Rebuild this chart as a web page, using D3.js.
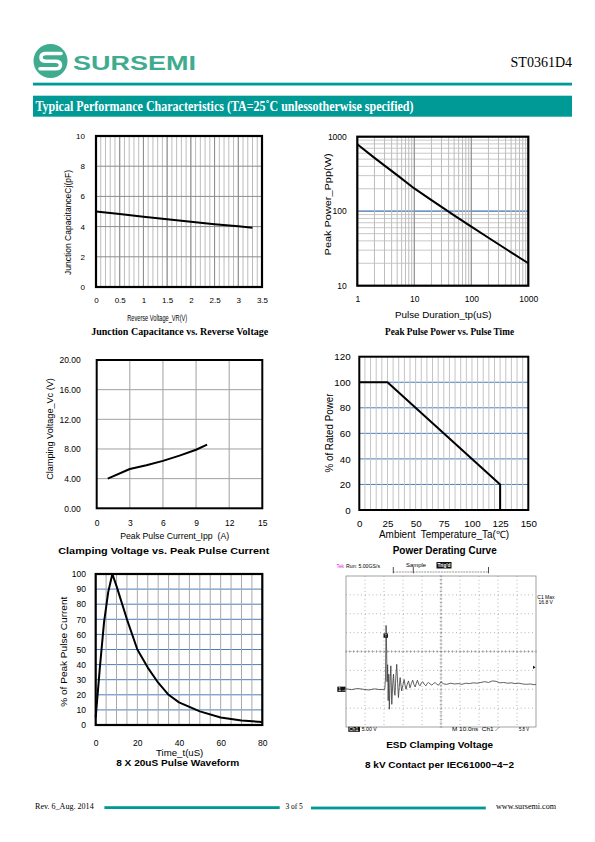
<!DOCTYPE html>
<html><head><meta charset="utf-8">
<script src="https://cdn.jsdelivr.net/npm/d3@7"></script>
<style>body{margin:0;background:#fff}svg{display:block}text{white-space:pre}</style>
</head><body><svg id="c" width="595" height="842"></svg>
<script>
// ---------- DATA ----------
// Chart 1: Junction capacitance vs reverse voltage
const cjVr = [0, 0.5, 1, 1.5, 2, 2.5, 3, 3.3];
const cjPf = [5.0, 4.83, 4.66, 4.49, 4.32, 4.16, 4.02, 3.92];
const cjXTicks = [0, 0.5, 1, 1.5, 2, 2.5, 3, 3.5];
const cjYTicks = [0, 2, 4, 6, 8, 10];
// Chart 2: Peak pulse power vs pulse time
const ppTp = [1, 2, 5, 10, 20, 50, 100, 200, 500, 1000];
const ppW = [790, 520, 305, 202, 141, 88, 62, 44, 28, 20];
const ppXTicks = [1, 10, 100, 1000];
const ppYTicks = [10, 100, 1000];
// Chart 3: Clamping voltage vs peak pulse current
const vcIpp = [1, 3, 4.5, 6, 7.5, 9, 10];
const vcV = [4.0, 5.3, 5.8, 6.4, 7.1, 7.9, 8.6];
const vcXTicks = [0, 3, 6, 9, 12, 15];
const vcYTicks = [0, 4, 8, 12, 16, 20];
// Chart 4: Power derating curve
const drT = [0, 25, 125, 125];
const drP = [100, 100, 20, 0];
const drXTicks = [0, 25, 50, 75, 100, 125, 150];
const drYTicks = [0, 20, 40, 60, 80, 100, 120];
// Chart 5: 8x20us pulse waveform
const pwT = [0, 2, 4, 6, 8, 10, 15, 20, 25, 30, 35, 40, 50, 60, 70, 80];
const pwI = [5, 38, 68, 88, 100, 92, 70, 50, 38, 28, 20, 15, 9, 5, 3, 2];
const pwXTicks = [0, 20, 40, 60, 80];
const pwYTicks = [0, 10, 20, 30, 40, 50, 60, 70, 80, 90, 100];
// Chart 6: ESD clamping scope trace (time ns from left edge, volts above ground)
const escT = [0,3,6,9,12,15,18,20.4,20.8,21.1,21.4,21.6,21.9,22.2,22.5,22.8,23.2,23.6,24.1,24.6,25.0,25.5,25.8,26.2,26.7,27.2,27.6,28.0,28.5,29.0,29.3,30.0,30.6,31.1,31.6,32.2,32.9,33.7,34.4,35.1,35.8,36.4,37.0,37.6,38.3,39.0,39.7,40.4,41.2,42.0,42.7,43.4,44.3,45.2,46.0,46.9,47.8,48.7,49.4,50.1,51.5,53,55,57,59,61,63,65,67,69,71,73,75,77,79,81,83,85,87,89,91,93,95,97,99,100];
const escV = [0.1,-0.1,0.2,0.0,-0.2,0.1,-0.1,0.0,3.0,16.9,10.0,2.0,6.5,-3.0,4.0,-5.3,2.0,6.2,-4.0,1.5,4.0,-1.0,-1.6,3.0,6.6,1.5,-2.2,0.5,3.1,0.8,-0.4,1.2,2.6,1.0,0.0,1.3,2.2,0.4,1.5,2.4,1.2,0.6,1.6,2.4,1.3,0.9,1.7,2.0,1.3,0.9,1.5,1.8,1.4,1.1,1.5,1.8,1.3,1.1,1.6,1.9,1.4,1.3,1.6,1.4,1.5,1.3,1.6,1.5,1.7,1.6,1.8,2.0,1.8,2.2,2.1,1.7,1.8,1.6,1.7,1.5,1.6,1.4,1.3,1.4,1.2,1.3];
const escXTicks = [0,10,20,30,40,50,60,70,80,90,100];
const escYTicks = [-10,-5,0,5,10,15,20,25,30];

// ---------- HELPERS ----------
const svg = d3.select("#c");
const SANS = "'Liberation Sans', Arial, sans-serif";
const SERIF = "'Liberation Serif', 'Times New Roman', serif";
const TEAL = "#009a96";
const BLUE = "#4a7ebb";

function txt(g, x, y, s, o = {}) {
  const t = g.append("text").attr("x", x).attr("y", y).text(s)
    .attr("font-family", o.family || SANS).attr("font-size", o.size || 9)
    .attr("font-weight", o.weight || "normal").attr("fill", o.fill || "#000")
    .attr("text-anchor", o.anchor || "middle");
  if (o.len) t.attr("textLength", o.len).attr("lengthAdjust", "spacingAndGlyphs");
  if (o.rot) t.attr("transform", `rotate(-90,${x},${y})`);
  return t;
}
function vgrid(g, x, vals, y0, y1, color, w = 1) {
  return g.append("g").selectAll("line").data(vals).join("line")
    .attr("x1", d => x(d)).attr("x2", d => x(d)).attr("y1", y0).attr("y2", y1)
    .attr("stroke", color).attr("stroke-width", w);
}
function hgrid(g, y, vals, x0, x1, color, w = 1) {
  return g.append("g").selectAll("line").data(vals).join("line")
    .attr("y1", d => y(d)).attr("y2", d => y(d)).attr("x1", x0).attr("x2", x1)
    .attr("stroke", color).attr("stroke-width", w);
}
function axes(g, x, y, o) {
  const ax = g.append("g").attr("transform", `translate(0,${o.bottom})`)
    .call(d3.axisBottom(x).tickValues(o.xt).tickFormat(o.xf || (d => d)).tickSize(0).tickPadding(o.xp));
  const ay = g.append("g").attr("transform", `translate(${o.left},0)`)
    .call(d3.axisLeft(y).tickValues(o.yt).tickFormat(o.yf || (d => d)).tickSize(0).tickPadding(o.yp));
  [ax, ay].forEach(a => { a.select(".domain").remove(); a.attr("font-family", SANS).attr("font-size", o.fs); a.selectAll("text").attr("fill", "#000"); });
}
function border(g, x0, y0, x1, y1, w = 2) {
  g.append("rect").attr("x", x0).attr("y", y0).attr("width", x1 - x0).attr("height", y1 - y0)
    .attr("fill", "none").attr("stroke", "#000").attr("stroke-width", w);
}
function curve(g, xs, ys, x, y, w = 2) {
  const pts = xs.map((d, i) => [d, ys[i]]);
  g.append("path").datum(pts).attr("fill", "none").attr("stroke", "#000").attr("stroke-width", w)
    .attr("stroke-linejoin", "round")
    .attr("d", d3.line().x(d => x(d[0])).y(d => y(d[1])));
}

// ---------- HEADER ----------
const hdr = svg.append("g");
hdr.append("circle").attr("cx", 50.5).attr("cy", 61).attr("r", 17).attr("fill", "#3fab8f");
hdr.append("path").attr("d", "M61,53.5 L46,53.5 Q41,53.5 41,57.5 Q41,61.2 46,61.2 L55.5,61.2 Q60.5,61.2 60.5,65 Q60.5,68.8 55.5,68.8 L40,68.8")
  .attr("fill", "none").attr("stroke", "#fff").attr("stroke-width", 3.6).attr("stroke-linecap", "round");
txt(hdr, 72.9, 70, "SURSEMI", { size: 21, weight: "bold", anchor: "start", fill: "#3fab8f", len: 123 });
txt(hdr, 572, 66.5, "ST0361D4", { family: SERIF, size: 14, anchor: "end" });
hdr.append("rect").attr("x", 33).attr("y", 82.7).attr("width", 539).attr("height", 2.8).attr("fill", TEAL);
hdr.append("rect").attr("x", 33).attr("y", 95.7).attr("width", 539).attr("height", 21).attr("fill", TEAL);
txt(hdr, 35.5, 111, "Typical Performance Characteristics (TA=25˚C unlessotherwise specified)",
  { family: SERIF, size: 14, weight: "bold", anchor: "start", fill: "#fff", len: 378 });

// ---------- CHART 1 ----------
{
  const g = svg.append("g");
  const L = 96, R = 262, T = 136, B = 287;
  const x = d3.scaleLinear([0, 3.5], [L, R]);
  const y = d3.scaleLinear([0, 10], [B, T]);
  vgrid(g, x, x.ticks(35), T, B, "#bdbdbd");
  vgrid(g, x, cjXTicks.slice(1, -1), T, B, "#8c8c8c");
  hgrid(g, y, cjYTicks.slice(1, -1), L, R, "#8c8c8c");
  curve(g, cjVr, cjPf, x, y);
  border(g, L, T, R, B, 2.2);
  axes(g, x, y, { bottom: B, left: L, xt: cjXTicks, yt: cjYTicks, xp: 10.6, yp: 11, fs: 8 });
  txt(g, 157.2, 321, "Reverse Voltage_VR(V)", { size: 9, len: 60 });
  txt(g, 179.7, 334.5, "Junction Capacitance vs. Reverse Voltage", { family: SERIF, size: 10, weight: "bold", len: 177 });
  txt(g, 71.4, 222.5, "Junction CapacitanceCj(pF)", { size: 9, len: 105, rot: true });
}

// ---------- CHART 2 ----------
{
  const g = svg.append("g");
  const L = 357.3, R = 528.3, T = 136.7, B = 285.7;
  const x = d3.scaleLog([1, 1000], [L, R]);
  const y = d3.scaleLog([10, 1000], [B, T]);
  hgrid(g, y, y.ticks(), L, R, "#c8c8c8");
  hgrid(g, y, [100], L, R, BLUE, 1.2);
  vgrid(g, x, x.ticks(), T, B, "#bdbdbd");
  vgrid(g, x, [10, 100], T, B, "#8c8c8c");
  curve(g, ppTp, ppW, x, y);
  border(g, L, T, R, B, 2.2);
  axes(g, x, y, { bottom: B, left: L, xt: ppXTicks, yt: ppYTicks, xp: 10, yp: 10.5, fs: 8.5, xf: d3.format("d"), yf: d3.format("d") });
  txt(g, 443.3, 317.7, "Pulse Duration_tp(uS)", { size: 9.5, len: 96.7 });
  txt(g, 449.5, 335, "Peak Pulse Power vs. Pulse Time", { family: SERIF, size: 10, weight: "bold", len: 129 });
  txt(g, 331.3, 204.4, "Peak Power_Ppp(W)", { size: 9.5, len: 102, rot: true });
}

// ---------- CHART 3 ----------
{
  const g = svg.append("g");
  const L = 96.7, R = 262.3, T = 360, B = 508.3;
  const x = d3.scaleLinear([0, 15], [L, R]);
  const y = d3.scaleLinear([0, 20], [B, T]);
  vgrid(g, x, vcXTicks.slice(1, -1), T, B, "#a0a0a0");
  hgrid(g, y, vcYTicks.slice(1, -1), L, R, "#a0a0a0");
  curve(g, vcIpp, vcV, x, y);
  border(g, L, T, R, B, 2);
  axes(g, x, y, { bottom: B, left: L, xt: vcXTicks, yt: vcYTicks, xp: 11.7, yp: 16, fs: 8.5, yf: d3.format(".2f") });
  txt(g, 174.7, 539.3, "Peak Pulse Current_Ipp  (A)", { size: 9, len: 109 });
  txt(g, 163.8, 554, "Clamping Voltage vs. Peak Pulse Current", { size: 9.5, weight: "bold", len: 211 });
  txt(g, 53.2, 429, "Clamping Voltage_Vc (V)", { size: 9, len: 101.7, rot: true });
}

// ---------- CHART 4 ----------
{
  const g = svg.append("g");
  const L = 359.3, R = 528.3, T = 356.7, B = 510;
  const x = d3.scaleLinear([0, 150], [L, R]);
  const y = d3.scaleLinear([0, 120], [B, T]);
  hgrid(g, y, drYTicks.slice(1, -1), L, R, BLUE, 1);
  vgrid(g, x, x.ticks(30).slice(1, -1), T, B, "#c4c4c4");
  curve(g, drT, drP, x, y);
  border(g, L, T, R, B, 2);
  axes(g, x, y, { bottom: B, left: L, xt: drXTicks, yt: drYTicks, xp: 10, yp: 8.6, fs: 9.8 });
  txt(g, 444, 538.3, "Ambient  Temperature_Ta(℃)", { size: 10, len: 130 });
  txt(g, 444.7, 554, "Power Derating Curve", { size: 10, weight: "bold", len: 104 });
  txt(g, 332.5, 433, "% of Rated Power", { size: 10, len: 79, rot: true });
}

// ---------- CHART 5 ----------
{
  const g = svg.append("g");
  const L = 95.7, R = 262.3, T = 574, B = 725;
  const x = d3.scaleLinear([0, 80], [L, R]);
  const y = d3.scaleLinear([0, 100], [B, T]);
  hgrid(g, y, pwYTicks.slice(1, -1), L, R, BLUE, 1);
  vgrid(g, x, x.ticks(16).slice(1, -1), T, B, "#a8a8a8");
  curve(g, pwT, pwI, x, y);
  border(g, L, T, R, B, 2.2);
  axes(g, x, y, { bottom: B, left: L, xt: pwXTicks, yt: pwYTicks, xp: 14.6, yp: 9.7, fs: 8.5 });
  txt(g, 179.7, 756, "Time_t(uS)", { size: 9, len: 47.3 });
  txt(g, 177.7, 765.7, "8 X 20uS Pulse Waveform", { size: 9.5, weight: "bold", len: 123 });
  txt(g, 66.6, 651.7, "% of Peak Pulse Current", { size: 9.5, len: 110, rot: true });
}

// ---------- CHART 6 (scope) ----------
{
  const g = svg.append("g");
  const L = 346, R = 536, T = 576, B = 727;
  const x = d3.scaleLinear([0, 100], [L, R]);
  const y = d3.scaleLinear([-10, 30], [B, T]);
  // dotted graticule
  vgrid(g, x, escXTicks.slice(1, -1), T, B, "#8a8a8a", 0.8).attr("stroke-dasharray", "0.8,3");
  hgrid(g, y, escYTicks.slice(1, -1), L, R, "#8a8a8a", 0.8).attr("stroke-dasharray", "0.8,3");
  // centre lines with minor ticks
  g.append("line").attr("x1", x(50)).attr("x2", x(50)).attr("y1", T).attr("y2", B).attr("stroke", "#9a9a9a").attr("stroke-width", 0.5).attr("stroke-dasharray", "1.5,1");
  g.append("line").attr("x1", L).attr("x2", R).attr("y1", y(10)).attr("y2", y(10)).attr("stroke", "#9a9a9a").attr("stroke-width", 0.5).attr("stroke-dasharray", "1.5,1");
  g.append("g").selectAll("line").data(x.ticks(50)).join("line")
    .attr("x1", d => x(d)).attr("x2", d => x(d)).attr("y1", y(10) - 1.3).attr("y2", y(10) + 1.3)
    .attr("stroke", "#777").attr("stroke-width", 0.6);
  g.append("g").selectAll("line").data(y.ticks(40)).join("line")
    .attr("y1", d => y(d)).attr("y2", d => y(d)).attr("x1", x(50) - 1.3).attr("x2", x(50) + 1.3)
    .attr("stroke", "#777").attr("stroke-width", 0.6);
  g.append("rect").attr("x", L).attr("y", T).attr("width", R - L).attr("height", B - T)
    .attr("fill", "none").attr("stroke", "#8a8a8a").attr("stroke-width", 0.8);
  // trace
  const pts = escT.map((d, i) => [d, escV[i]]);
  g.append("path").datum(pts).attr("fill", "none").attr("stroke", "#3a3a3a").attr("stroke-width", 0.8)
    .attr("d", d3.line().x(d => x(d[0])).y(d => y(d[1])));
  // header
  const s6 = { size: 6, anchor: "start" };
  txt(g, 336.5, 567.5, "Tek", Object.assign({}, s6, { fill: "#e020e0", len: 7.5 }));
  txt(g, 346, 567.5, "Run: 5.00GS/s", Object.assign({}, s6, { len: 34 }));
  txt(g, 406, 566.5, "Sample", Object.assign({}, s6, { len: 20 }));
  g.append("rect").attr("x", 436.5).attr("y", 562).attr("width", 15).attr("height", 6.5).attr("fill", "#111");
  txt(g, 437.5, 567.3, "Trig'd", Object.assign({}, s6, { fill: "#fff", len: 13, weight: "bold" }));
  g.append("line").attr("x1", 393.3).attr("x2", 488.5).attr("y1", 572).attr("y2", 572).attr("stroke", "#555").attr("stroke-width", 0.6).attr("stroke-dasharray", "2,0.8");
  [393.3, 413.3, 488.5].forEach(px => g.append("line").attr("x1", px).attr("x2", px).attr("y1", 567).attr("y2", 573.3).attr("stroke", "#222").attr("stroke-width", 0.8));
  // right annotation
  txt(g, 537.3, 599, "C1 Max", { size: 5, anchor: "start" });
  txt(g, 538.5, 603.8, "16.8 V", { size: 5, anchor: "start" });
  // markers
  g.append("rect").attr("x", 337.3).attr("y", y(0) - 2.6).attr("width", 8.2).attr("height", 5.2).attr("fill", "#111");
  txt(g, 338.3, y(0) + 1.8, "1→", { size: 5, anchor: "start", fill: "#fff" });
  g.append("rect").attr("x", 383.5).attr("y", 633.5).attr("width", 4.5).attr("height", 4.2).attr("fill", "#111");
  txt(g, 385.75, 637.2, "T", { size: 4.2, fill: "#fff" });
  g.append("path").attr("d", `M${R - 0.5},${y(5.8)} l-2.5,-1.6 l0,3.2 z`).attr("fill", "#111");
  // bottom bar
  g.append("rect").attr("x", 348.3).attr("y", 726.8).attr("width", 11.7).attr("height", 5).attr("fill", "#111");
  txt(g, 349, 731.2, "Ch1", { size: 5, anchor: "start", fill: "#fff" });
  txt(g, 361.7, 731.2, "5.00 V", { size: 5.5, anchor: "start", len: 15 });
  txt(g, 452, 731.2, "M 10.0ns  Ch1 ⟋", { size: 5.5, anchor: "start", len: 48 });
  txt(g, 529, 731.2, "5.8 V", { size: 5.5, anchor: "end", len: 10 });
  // captions
  txt(g, 439.7, 748.3, "ESD Clamping Voltage", { size: 9.5, weight: "bold", len: 107 });
  txt(g, 439.5, 768.3, "8 kV Contact per IEC61000−4−2", { size: 9.5, weight: "bold", len: 149 });
}

// ---------- FOOTER ----------
{
  const g = svg.append("g");
  txt(g, 35, 808.5, "Rev. 6_Aug. 2014", { family: SERIF, size: 8, anchor: "start", len: 58.7 });
  g.append("rect").attr("x", 104.4).attr("y", 806.2).attr("width", 175.3).attr("height", 2.8).attr("fill", TEAL);
  txt(g, 285.4, 808.5, "3 of 5", { family: SERIF, size: 8, anchor: "start", len: 17.4 });
  g.append("rect").attr("x", 311).attr("y", 806.6).attr("width", 174.8).attr("height", 2.8).attr("fill", TEAL);
  txt(g, 496, 808.5, "www.sursemi.com", { family: SERIF, size: 8, anchor: "start", len: 60 });
}
</script></body></html>
